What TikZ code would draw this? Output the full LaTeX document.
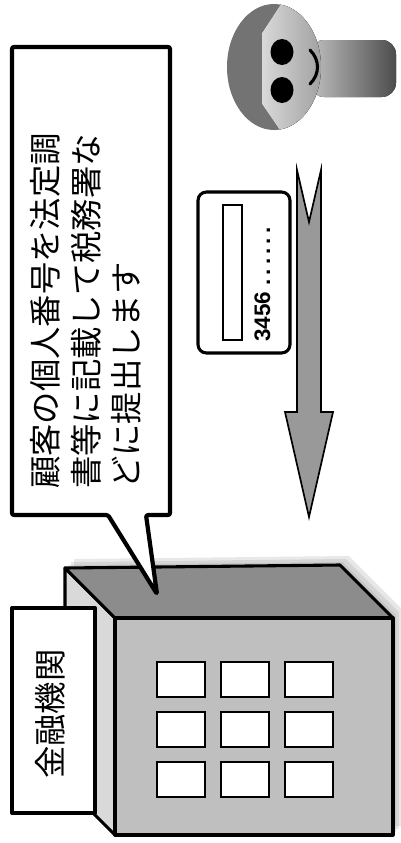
\documentclass[tikz,border=0pt]{standalone}
\usepackage{fontspec}
\newfontfamily\jpfont{Noto Sans CJK JP}
\newfontfamily\numfont{Liberation Sans}
\usetikzlibrary{shapes.misc, positioning}

\tikzset{
	thickline/.style={draw=black, line width=2.2pt, line join=round},
	jptext/.style={rotate=90, inner sep=0pt, font=\jpfont\fontsize{23}{23}\selectfont},
	window/.style={draw=black, line width=2pt, fill=white}
}

\begin{document}
\begin{tikzpicture}[x=0.25mm, y=-0.25mm]

	\useasboundingbox (0,0) rectangle (400,843);

%building corners
	\coordinate (RA) at (65,568);
	\coordinate (RB) at (340,565);
	\coordinate (RC) at (393,618);
	\coordinate (RD) at (115,618);
	\coordinate (FA) at (115,835);
	\coordinate (FB) at (393,835);
	\coordinate (SA) at (65,785);

%soft shadow behind the building
	\foreach \s in {3,6,9}
		\fill[gray, opacity=0.18, shift={(\s,-\s)}] (65,568) -- (340,565) -- (393,618) -- (393,835) -- (115,835) -- (65,785) -- cycle;

%building
	\filldraw[thickline, fill=black!15] (RA) -- (RD) -- (FA) -- (SA) -- cycle;
	\filldraw[thickline, fill=black!45] (RA) -- (RB) -- (RC) -- (RD) -- cycle;
	\filldraw[thickline, fill=black!25] (RD) -- (RC) -- (FB) -- (FA) -- cycle;

%windows
	\foreach \i in {0,1,2}
		\foreach \j in {0,1,2}
			\draw[window] (157+64*\i, 662+50*\j) rectangle ++(48,35);

%name plate
	\filldraw[thickline, line width=2.8pt, fill=white] (12,608) rectangle (95,813);
	\node [jptext] (bank) at (50,714) {金融機関};

%speech bubble
	\filldraw[thickline, line width=3pt, fill=white, rounded corners=1.5pt] (12,47) -- (170,47) -- (170,515) -- (146,515) -- (157,594) -- (108,515) -- (12,515) -- cycle;
	\node [jptext, anchor=base west] (line1) at (57,489) {顧客の個人番号を法定調};
	\node [jptext, anchor=base west] (line2) at (98,489) {書等に記載して税務署な};
	\node [jptext, anchor=base west] (line3) at (138,489) {どに提出します};

%card
	\filldraw[thickline, fill=white, rounded corners=6pt] (198,192) rectangle (290,353);
	\draw[line width=1.8pt, fill=white] (223,205) rectangle (242,340);
	\node [rotate=90, anchor=base west, inner sep=0pt, font=\numfont\bfseries\fontsize{16}{16}\selectfont] (pin) at (270,342) {3456 \addfontfeature{LetterSpace=18}......};

%arrow
	\filldraw[draw=black, line width=1.2pt, fill=black!40, line join=miter] (297,170) -- (309,222) -- (321,170) -- (321,412) -- (333,412) -- (309,517) -- (285,412) -- (297,412) -- cycle;

%person
	\fill[left color=black!25, right color=black!70, rounded corners=10pt] (310,40) rectangle (396,97);
	\fill[black!55] (274,67) ellipse [x radius=47, y radius=63];
	\begin{scope}
		\clip (274,67) ellipse [x radius=47, y radius=63];
		\fill[left color=black!15, right color=black!40] (262,33) -- (290,-10) -- (330,-10) -- (330,145) -- (290,145) -- (262,104) -- cycle;
	\end{scope}
	\fill (282,52) ellipse [x radius=11.5, y radius=13];
	\fill (282,90) ellipse [x radius=11.5, y radius=13];
	\draw[line width=2.2pt, line cap=round] (310,50) .. controls (320,60) and (320,74) .. (310,84);

\end{tikzpicture}
\end{document}
